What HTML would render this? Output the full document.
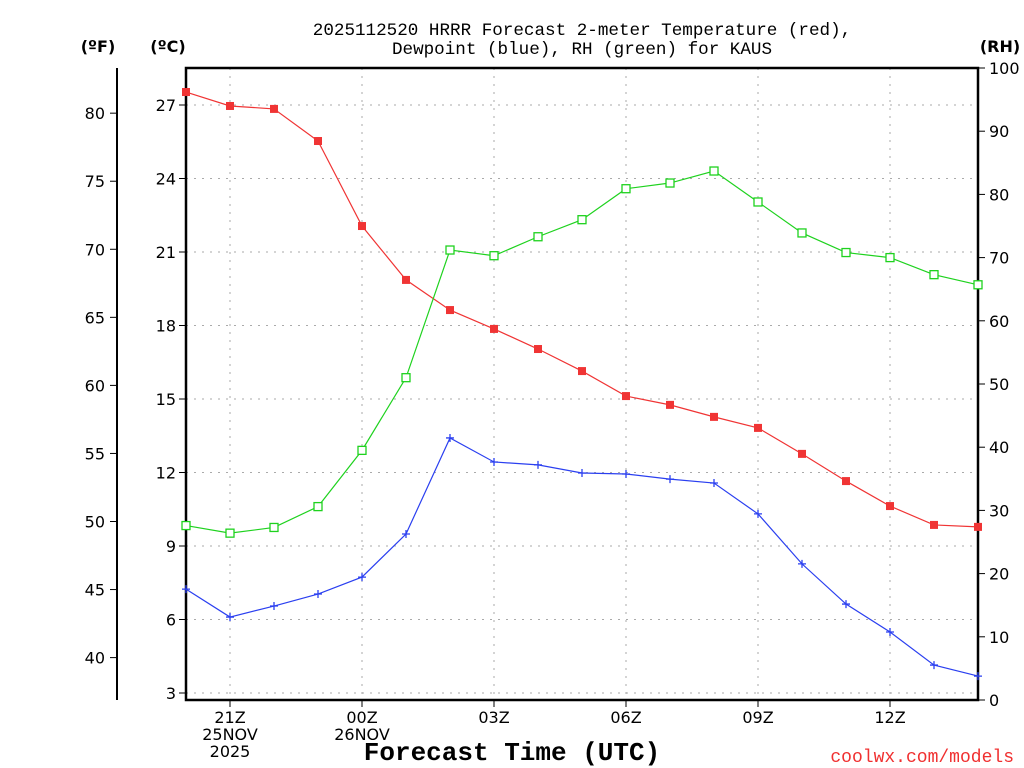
<!DOCTYPE html>
<html><head><meta charset="utf-8"><style>
html,body{margin:0;padding:0;background:#fff}
svg{display:block;font-family:"DejaVu Sans","Liberation Sans",sans-serif}
</style></head><body>
<svg id="chart" width="1024" height="768" viewBox="0 0 1024 768" xmlns="http://www.w3.org/2000/svg">
<text x="582" y="35" text-anchor="middle" font-size="17.6" font-family="Liberation Mono, monospace">2025112520 HRRR Forecast 2-meter Temperature (red),</text>
<text x="582" y="54" text-anchor="middle" font-size="17.6" font-family="Liberation Mono, monospace">Dewpoint (blue), RH (green) for KAUS</text>
<text x="98" y="52" text-anchor="middle" font-size="16" font-weight="bold">(ºF)</text>
<text x="168" y="52" text-anchor="middle" font-size="16" font-weight="bold">(ºC)</text>
<text x="1000" y="52" text-anchor="middle" font-size="16" font-weight="bold">(RH)</text>
<text x="512" y="760" text-anchor="middle" font-size="26" font-family="Liberation Mono, monospace" font-weight="bold">Forecast Time (UTC)</text>
<text x="1014" y="762" text-anchor="end" font-size="18" fill="#f03030" font-family="Liberation Mono, monospace">coolwx.com/models</text>
<g id="grid"></g><g id="axes"></g><g id="series"></g>
</svg>
<script>
const hours=[20,21,22,23,0,1,2,3,4,5,6,7,8,9,10,11,12,13,14];
const tempC=[27.53,26.96,26.84,25.53,22.06,19.86,18.63,17.86,17.04,16.14,15.12,14.76,14.27,13.82,12.76,11.65,10.63,9.86,9.78];
const dewC=[7.24,6.10,6.55,7.04,7.73,9.49,13.41,12.43,12.31,11.98,11.94,11.73,11.57,10.31,8.27,6.63,5.49,4.14,3.69];
const rh=[27.6,26.4,27.3,30.6,39.5,51.0,71.2,70.3,73.3,76.0,80.9,81.8,83.7,78.8,73.9,70.8,70.0,67.3,65.7];
const cTicks=[3,6,9,12,15,18,21,24,27];
const fTicks=[40,45,50,55,60,65,70,75,80];
const rhTicks=[0,10,20,30,40,50,60,70,80,90,100];
const xTickIdx=[1,4,7,10,13,16];
const xTickLabels=[["21Z","25NOV","2025"],["00Z","26NOV"],["03Z"],["06Z"],["09Z"],["12Z"]];
const L=186,R=978,T=68,B=700;
const xs=i=>L+i*(R-L)/(hours.length-1);
const yC=c=>105+(27-c)*24.5;
const yF=f=>yC((f-32)*5/9);
const yRH=r=>B-r*(B-T)/100;
const NS="http://www.w3.org/2000/svg";
function mk(tag,attrs,parent,txt){const e=document.createElementNS(NS,tag);for(const k in attrs)e.setAttribute(k,attrs[k]);if(txt!==undefined)e.textContent=txt;parent.appendChild(e);return e;}
const g=document.getElementById('grid'),a=document.getElementById('axes'),s=document.getElementById('series');
cTicks.forEach(c=>{const y=yC(c);
 let l=mk('line',{x1:L,x2:R,y1:y,y2:y,stroke:'#aaa','stroke-dasharray':'2,6'},g);
 
 mk('line',{x1:L-7,x2:L,y1:y,y2:y,stroke:'#000'},a);
 let t=mk('text',{x:L-10,y:y+6,'text-anchor':'end','font-size':'16'},a,String(c));
 });
fTicks.forEach(f=>{const y=yF(f);
 mk('line',{x1:110,x2:117,y1:y,y2:y,stroke:'#000'},a);
 let t=mk('text',{x:105,y:y+6,'text-anchor':'end','font-size':'16'},a,String(f));
 });
rhTicks.forEach(r=>{const y=yRH(r);
 mk('line',{x1:R,x2:R+7,y1:y,y2:y,stroke:'#000'},a);
 let t=mk('text',{x:R+11,y:y+6,'font-size':'16'},a,String(r));
 });
xTickIdx.forEach((i,k)=>{const x=xs(i);
 let l=mk('line',{x1:x,x2:x,y1:T,y2:B,stroke:'#aaa','stroke-dasharray':'2,6'},g);
 
 mk('line',{x1:x,x2:x,y1:B,y2:B+7,stroke:'#000'},a);
 xTickLabels[k].forEach((lab,j)=>{let t=mk('text',{x:x,y:B+23+j*17,'text-anchor':'middle','font-size':'16'},a,lab);
 });});
let fr=mk('rect',{x:L,y:T,width:R-L,height:B-T,fill:'none',stroke:'#000','stroke-width':'2.5'},a);

let fa=mk('line',{x1:117,x2:117,y1:T,y2:B,stroke:'#000','stroke-width':'2'},a);

function series(vals,yf,color,name,marker){
 const pts=vals.map((v,i)=>xs(i)+','+yf(v)).join(' ');
 let p=mk('polyline',{points:pts,fill:'none',stroke:color,'stroke-width':'1.2'},s);
 
 vals.forEach((v,i)=>{const x=xs(i),y=yf(v);let m;
  if(marker==='fill')m=mk('rect',{x:x-4,y:y-4,width:8,height:8,fill:color},s);
  else if(marker==='open')m=mk('rect',{x:x-4,y:y-4,width:8,height:8,fill:'#fff',stroke:color,'stroke-width':'1.3'},s);
  else m=mk('path',{d:`M${x-4},${y}H${x+4}M${x},${y-4}V${y+4}`,stroke:color,'stroke-width':'1.3'},s);
  });
}
series(tempC,yC,'#f03434','temperature','fill');
series(rh,yRH,'#1ed21e','rh','open');
series(dewC,yC,'#2a3ff0','dewpoint','plus');
</script>
</body></html>
